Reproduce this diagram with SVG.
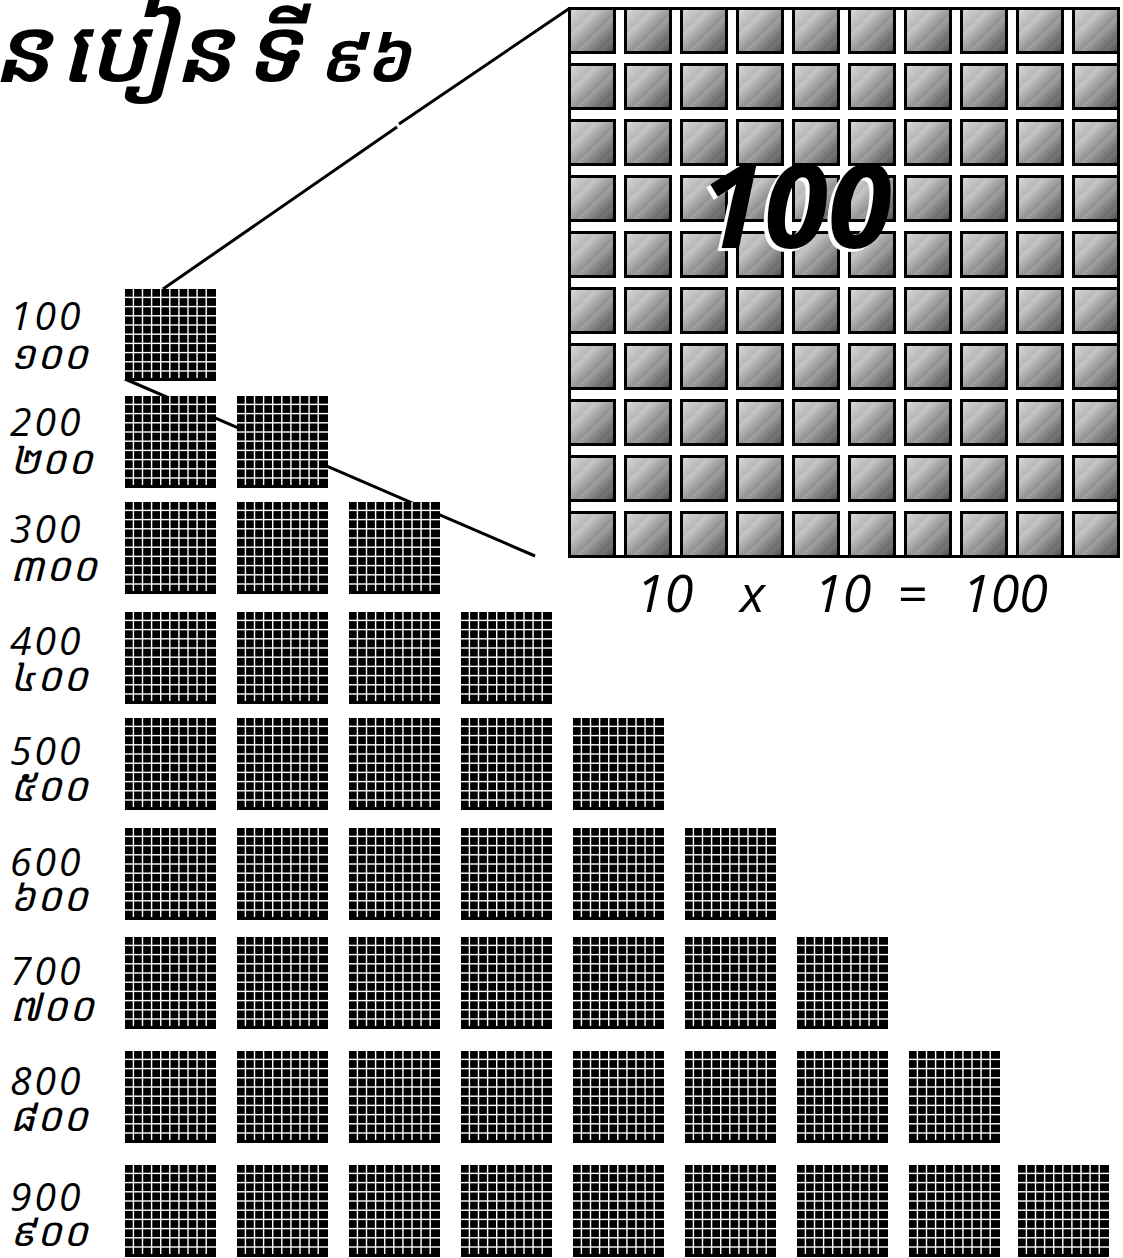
<svg xmlns="http://www.w3.org/2000/svg" xmlns:xlink="http://www.w3.org/1999/xlink" width="1123" height="1258" viewBox="0 0 1123 1258">
<style>
.lbl{font-family:"Open Sans","Noto Sans Khmer","Khmer OS","Noto Sans",sans-serif;font-style:italic;font-size:39px;fill:#000;letter-spacing:3px}
.km{font-family:"Noto Sans Khmer","Khmer OS","Noto Sans",sans-serif;font-style:italic;font-size:40px;fill:#000;letter-spacing:1px}
.eq{font-family:"Open Sans","Noto Sans",sans-serif;font-style:italic;font-size:52px;fill:#000}
.title{font-family:"Noto Sans Khmer","Khmer OS","Noto Sans","DejaVu Sans",sans-serif;font-style:italic;font-weight:600;font-size:90px;fill:#000}
.big{font-family:"Open Sans","Noto Sans",sans-serif;font-style:italic;font-weight:bold;font-size:116px}
.conn{stroke:#000;stroke-width:3;fill:none}
</style>
<defs>
<linearGradient id="cg" x1="0" y1="0" x2="1" y2="1">
<stop offset="0" stop-color="#dadada"/>
<stop offset="0.28" stop-color="#bababa"/>
<stop offset="0.31" stop-color="#c6c6c6"/>
<stop offset="0.55" stop-color="#939393"/>
<stop offset="0.58" stop-color="#a0a0a0"/>
<stop offset="0.8" stop-color="#6c6c6c"/>
<stop offset="0.83" stop-color="#767676"/>
<stop offset="1" stop-color="#444"/>
</linearGradient>
<rect id="cell" width="45" height="44" fill="url(#cg)" stroke="#000" stroke-width="3"/>
<g id="cellrow">
<use xlink:href="#cell" x="569.5"/><use xlink:href="#cell" x="625.5"/><use xlink:href="#cell" x="681.5"/><use xlink:href="#cell" x="737.5"/><use xlink:href="#cell" x="793.5"/><use xlink:href="#cell" x="849.5"/><use xlink:href="#cell" x="905.5"/><use xlink:href="#cell" x="961.5"/><use xlink:href="#cell" x="1017.5"/><use xlink:href="#cell" x="1073.5"/>
</g>
<g id="blk">
<rect width="91" height="92" fill="#000"/>
<g fill="#fff">
<rect x="7.7" y="0" width="1.4" height="89"/><rect x="16.8" y="0" width="1.4" height="89"/><rect x="25.9" y="0" width="1.4" height="89"/><rect x="35" y="0" width="1.4" height="89"/><rect x="44.1" y="0" width="1.4" height="89"/><rect x="53.2" y="0" width="1.4" height="89"/><rect x="62.3" y="0" width="1.4" height="89"/><rect x="71.4" y="0" width="1.4" height="89"/><rect x="80.5" y="0" width="1.4" height="89"/>
<rect x="0" y="7.7" width="91" height="1.4"/><rect x="0" y="16.9" width="91" height="1.4"/><rect x="0" y="26.1" width="91" height="1.4"/><rect x="0" y="35.3" width="91" height="1.4"/><rect x="0" y="44.5" width="91" height="1.4"/><rect x="0" y="53.7" width="91" height="1.4"/><rect x="0" y="62.9" width="91" height="1.4"/><rect x="0" y="72.1" width="91" height="1.4"/><rect x="0" y="81.3" width="91" height="1.4"/>
</g>
</g>
</defs>
<rect width="1123" height="1258" fill="#fff"/>

<g id="title">
<text class="title" y="82"><tspan x="-8">ន</tspan><tspan x="60">បៀន</tspan><tspan x="244">ទី</tspan><tspan x="318" font-size="70">៩៦</tspan></text>
</g>

<g id="connectors">
<polyline class="conn" points="163,289 397,127"/>
<polyline class="conn" points="399,124 570,8"/>
<line class="conn" x1="125" y1="379" x2="535" y2="556"/>
</g>

<g id="big-grid">
<rect x="569.5" y="8.5" width="549" height="548" fill="#fff" stroke="#000" stroke-width="3"/>
<use xlink:href="#cellrow" y="8.5"/>
<use xlink:href="#cellrow" y="64.5"/>
<use xlink:href="#cellrow" y="120.5"/>
<use xlink:href="#cellrow" y="176.5"/>
<use xlink:href="#cellrow" y="232.5"/>
<use xlink:href="#cellrow" y="288.5"/>
<use xlink:href="#cellrow" y="344.5"/>
<use xlink:href="#cellrow" y="400.5"/>
<use xlink:href="#cellrow" y="456.5"/>
<use xlink:href="#cellrow" y="512.5"/>
<text class="big" x="696" y="251" fill="#fff">100</text>
<text class="big" x="700" y="248" fill="#000">100</text>
</g>

<g id="equation">
<text class="eq" x="636" y="612">10</text>
<text class="eq" x="740" y="612">x</text>
<text class="eq" x="814" y="612">10</text>
<text class="eq" x="897" y="612">=</text>
<text class="eq" x="962" y="612">100</text>
</g>

<g id="labels">
<text class="lbl" x="10" y="330">100</text><text class="km" x="10" y="369">១០០</text>
<text class="lbl" x="10" y="436">200</text><text class="km" x="10" y="474">២០០</text>
<text class="lbl" x="10" y="543">300</text><text class="km" x="10" y="581">៣០០</text>
<text class="lbl" x="10" y="655">400</text><text class="km" x="10" y="691">៤០០</text>
<text class="lbl" x="10" y="765">500</text><text class="km" x="10" y="801">៥០០</text>
<text class="lbl" x="10" y="876">600</text><text class="km" x="10" y="911">៦០០</text>
<text class="lbl" x="10" y="985">700</text><text class="km" x="10" y="1021">៧០០</text>
<text class="lbl" x="10" y="1095">800</text><text class="km" x="10" y="1131">៨០០</text>
<text class="lbl" x="10" y="1211">900</text><text class="km" x="10" y="1246">៩០០</text>
</g>

<g id="blocks">
<g id="row-100"><use xlink:href="#blk" x="125" y="289"/></g>
<g id="row-200"><use xlink:href="#blk" x="125" y="396"/><use xlink:href="#blk" x="237" y="396"/></g>
<g id="row-300"><use xlink:href="#blk" x="125" y="502"/><use xlink:href="#blk" x="237" y="502"/><use xlink:href="#blk" x="349" y="502"/></g>
<g id="row-400"><use xlink:href="#blk" x="125" y="612"/><use xlink:href="#blk" x="237" y="612"/><use xlink:href="#blk" x="349" y="612"/><use xlink:href="#blk" x="461" y="612"/></g>
<g id="row-500"><use xlink:href="#blk" x="125" y="718"/><use xlink:href="#blk" x="237" y="718"/><use xlink:href="#blk" x="349" y="718"/><use xlink:href="#blk" x="461" y="718"/><use xlink:href="#blk" x="573" y="718"/></g>
<g id="row-600"><use xlink:href="#blk" x="125" y="828"/><use xlink:href="#blk" x="237" y="828"/><use xlink:href="#blk" x="349" y="828"/><use xlink:href="#blk" x="461" y="828"/><use xlink:href="#blk" x="573" y="828"/><use xlink:href="#blk" x="685" y="828"/></g>
<g id="row-700"><use xlink:href="#blk" x="125" y="937"/><use xlink:href="#blk" x="237" y="937"/><use xlink:href="#blk" x="349" y="937"/><use xlink:href="#blk" x="461" y="937"/><use xlink:href="#blk" x="573" y="937"/><use xlink:href="#blk" x="685" y="937"/><use xlink:href="#blk" x="797" y="937"/></g>
<g id="row-800"><use xlink:href="#blk" x="125" y="1051"/><use xlink:href="#blk" x="237" y="1051"/><use xlink:href="#blk" x="349" y="1051"/><use xlink:href="#blk" x="461" y="1051"/><use xlink:href="#blk" x="573" y="1051"/><use xlink:href="#blk" x="685" y="1051"/><use xlink:href="#blk" x="797" y="1051"/><use xlink:href="#blk" x="909" y="1051"/></g>
<g id="row-900"><use xlink:href="#blk" x="125" y="1165"/><use xlink:href="#blk" x="237" y="1165"/><use xlink:href="#blk" x="349" y="1165"/><use xlink:href="#blk" x="461" y="1165"/><use xlink:href="#blk" x="573" y="1165"/><use xlink:href="#blk" x="685" y="1165"/><use xlink:href="#blk" x="797" y="1165"/><use xlink:href="#blk" x="909" y="1165"/><use xlink:href="#blk" x="1018" y="1165"/></g>
</g>
</svg>
